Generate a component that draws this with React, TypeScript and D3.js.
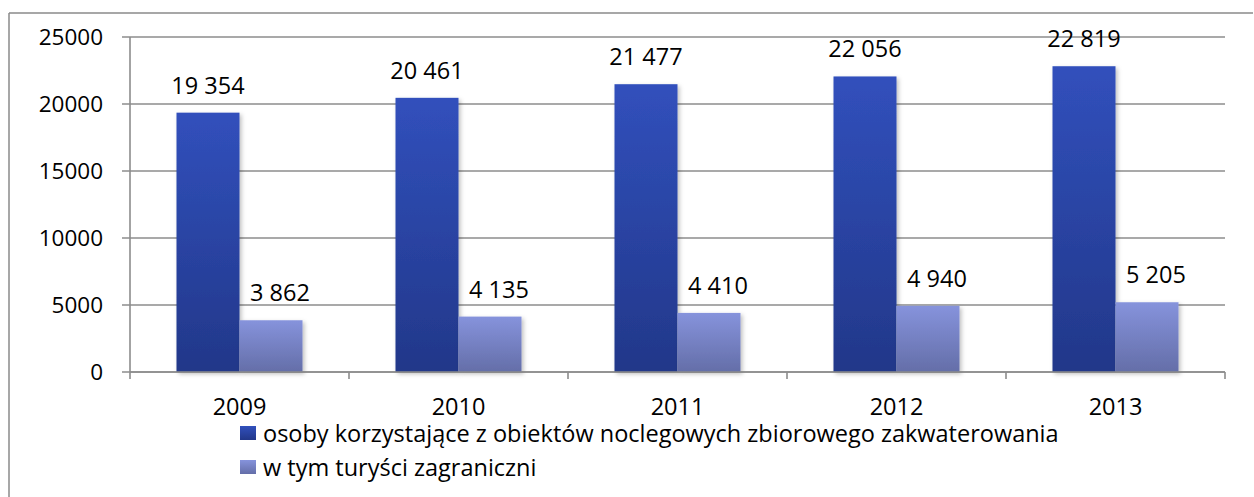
import React from "react";
import * as d3 from "d3";

const years = ["2009", "2010", "2011", "2012", "2013"];
const totalGuests = [19354, 20461, 21477, 22056, 22819];
const foreignTourists = [3862, 4135, 4410, 4940, 5205];
const yTicks = [0, 5000, 10000, 15000, 20000, 25000];
const seriesNames = [
  "osoby korzystające z obiektów noclegowych zbiorowego zakwaterowania",
  "w tym turyści zagraniczni",
];

const W = 1254;
const H = 497;
const FONT = "'Open Sans', 'Noto Sans', sans-serif";

const fmt = (v: number) => {
  const s = String(v);
  return s.length > 3 ? s.slice(0, s.length - 3) + " " + s.slice(-3) : s;
};

export default function App() {
  const left = 130;
  const right = 1225;
  const top = 37;
  const bottom = 372;

  const x = d3.scaleBand<string>().domain(years).range([left, right]).paddingInner(0).paddingOuter(0);
  const y = d3.scaleLinear().domain([0, 25000]).range([bottom, top]);
  const bw = x.bandwidth();
  const barW = bw * 0.2877;
  const groupOffset = (bw - 2 * barW) / 2;

  const series = [
    { name: seriesNames[0], values: totalGuests, grad: "gDark", dx: 0 },
    { name: seriesNames[1], values: foreignTourists, grad: "gLight", dx: 9 },
  ];

  return (
    <svg
      width={W}
      height={H}
      style={{ position: "absolute", left: 0, top: 0, display: "block", background: "#fff" }}
      fontFamily={FONT}
    >
      <defs>
        <linearGradient id="gDark" x1="0" y1="0" x2="0" y2="1">
          <stop offset="0" stopColor="#3150BC" />
          <stop offset="1" stopColor="#223789" />
        </linearGradient>
        <linearGradient id="gLight" x1="0" y1="0" x2="0" y2="1">
          <stop offset="0" stopColor="#8693DC" />
          <stop offset="1" stopColor="#646EA8" />
        </linearGradient>
        <filter id="shadow" x="-20%" y="-5%" width="150%" height="120%">
          <feDropShadow dx="2" dy="2" stdDeviation="2" floodColor="#000" floodOpacity="0.25" />
        </filter>
      </defs>

      {/* outer frame: top and left edges */}
      <line x1={9} x2={1253} y1={13} y2={13} stroke="#8a8a8a" strokeWidth={1.5} />
      <line x1={9} x2={9} y1={13} y2={H} stroke="#8a8a8a" strokeWidth={1.5} />

      {/* gridlines and y ticks */}
      {yTicks.map((t) => (
        <g key={t}>
          <line x1={left - 8} x2={right} y1={y(t)} y2={y(t)} stroke="#8c8c8c" strokeWidth={1.6} />
          <text x={103} y={y(t)} dy="0.35em" textAnchor="end" fontSize={22.5} fill="#000">
            {t}
          </text>
        </g>
      ))}

      {/* y axis */}
      <line x1={left} x2={left} y1={top} y2={bottom} stroke="#8c8c8c" strokeWidth={1.6} />

      {/* x category ticks */}
      {[...years.map((c) => x(c) as number), right].map((px, i) => (
        <line key={i} x1={px} x2={px} y1={bottom} y2={bottom + 7} stroke="#8c8c8c" strokeWidth={1.6} />
      ))}

      {/* bars */}
      {series.map((s, si) =>
        s.values.map((v, i) => {
          const bx = (x(years[i]) as number) + groupOffset + si * barW;
          return (
            <rect
              key={`${si}-${i}`}
              x={bx}
              y={y(v)}
              width={barW}
              height={y(0) - y(v)}
              fill={`url(#${s.grad})`}
              filter="url(#shadow)"
            />
          );
        })
      )}

      {/* x axis line */}
      <line x1={left} x2={right} y1={bottom} y2={bottom} stroke="#8c8c8c" strokeWidth={1.6} />

      {/* value labels */}
      {series.map((s, si) =>
        s.values.map((v, i) => {
          const cx = (x(years[i]) as number) + groupOffset + si * barW + barW / 2 + s.dx;
          return (
            <text key={`l${si}-${i}`} x={cx} y={y(v) - 19} textAnchor="middle" fontSize={23.5} fill="#000">
              {fmt(v)}
            </text>
          );
        })
      )}

      {/* category labels */}
      {years.map((c) => (
        <text key={c} x={(x(c) as number) + bw / 2} y={415} textAnchor="middle" fontSize={23.5} fill="#000">
          {c}
        </text>
      ))}

      {/* legend */}
      {series.map((s, si) => (
        <g key={s.name} transform={`translate(240, ${426 + si * 34})`}>
          <rect x={0} y={0} width={16} height={14} fill={`url(#${s.grad})`} />
          <text x={23} y={15.5} fontSize={23.5} fill="#000">
            {s.name}
          </text>
        </g>
      ))}
    </svg>
  );
}
